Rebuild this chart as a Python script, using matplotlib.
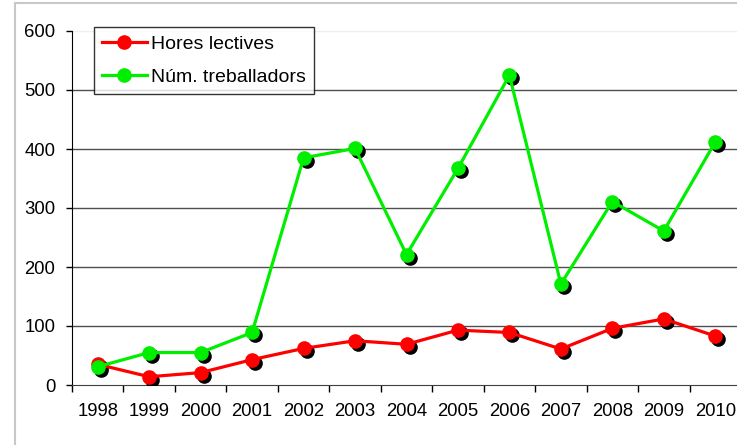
import numpy as np
import matplotlib.pyplot as plt
import matplotlib.transforms as mtransforms
from matplotlib.patches import Rectangle

plt.rcParams["font.family"] = ["Liberation Sans", "DejaVu Sans"]

# Data
years = ["1998", "1999", "2000", "2001", "2002", "2003", "2004",
         "2005", "2006", "2007", "2008", "2009", "2010"]
hores = [35, 14, 21, 43, 62, 75, 69, 93, 89, 61, 96, 112, 83]
treballadors = [31, 55, 55, 89, 385, 401, 221, 367, 525, 171, 311, 261, 412]

fig = plt.figure(figsize=(7.37, 4.45), dpi=100)
fig.patch.set_facecolor("white")

# outer chart border (Excel style)
fig.patches.append(Rectangle((15 / 737, -0.1), 1.2, (445 - 3) / 445 + 0.1,
                             transform=fig.transFigure, fill=False,
                             edgecolor="#c8c8c8", linewidth=1.5))

ax = fig.add_axes([72 / 737, 60 / 445, 669 / 737, 354 / 445])
x = np.arange(len(years))

# black drop shadow under markers
shadow = ax.transData + mtransforms.ScaledTranslation(3 / 100, -3 / 100, fig.dpi_scale_trans)
for vals in (hores, treballadors):
    ax.plot(x, vals, linestyle="none", marker="o", markersize=9.5,
            color="black", transform=shadow, zorder=3)

ax.plot(x, hores, color="#ff0000", lw=2.3, marker="o", markersize=9.5,
        label="Hores lectives", zorder=4)
ax.plot(x, treballadors, color="#00ee00", lw=2.3, marker="o", markersize=9.5,
        label="Núm. treballadors", zorder=4)

ax.set_xlim(-0.5, len(years) - 0.5)
ax.set_ylim(0, 600)

# gridlines
for v in range(100, 600, 100):
    ax.axhline(v, color="#505050", lw=1, zorder=1)
ax.axhline(600, color="#eeeeee", lw=1, zorder=1)

ax.set_yticks(range(0, 601, 100))
ax.set_xticks(x)
ax.set_xticklabels(years)
ax.set_xticks(np.arange(-0.5, len(years), 1), minor=True)
ax.tick_params(axis="x", which="major", length=0, pad=13, labelsize=13.3)
ax.tick_params(axis="x", which="minor", length=5, width=1, direction="out")
ax.tick_params(axis="y", length=4, width=1, direction="out", pad=8, labelsize=13.3)

for s in ("top", "right"):
    ax.spines[s].set_visible(False)
ax.spines["left"].set_color("black")
ax.spines["bottom"].set_color("#404040")

leg = ax.legend(loc="upper left", bbox_to_anchor=(0.033, 1.01), fontsize=14,
                frameon=True, fancybox=False, edgecolor="black",
                handlelength=2.3, handletextpad=0.25, borderpad=0.4,
                labelspacing=0.8, borderaxespad=0)
leg.get_frame().set_linewidth(1)

fig.savefig("out.png", dpi=100)
